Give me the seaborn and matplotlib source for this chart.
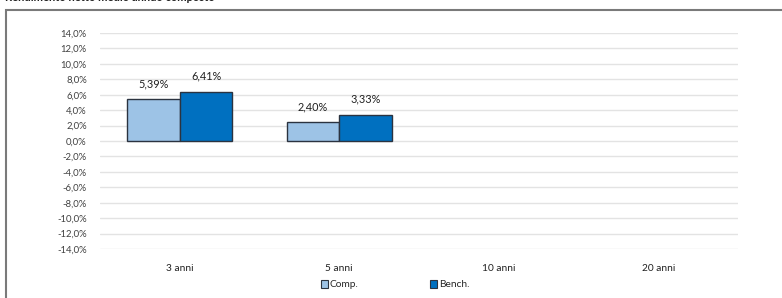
import matplotlib
matplotlib.use("Agg")
import matplotlib.pyplot as plt
import matplotlib.patches as mpatches
from matplotlib.ticker import FuncFormatter, MultipleLocator
import seaborn as sns
import pandas as pd
import numpy as np

categories = ["3 anni", "5 anni", "10 anni", "20 anni"]
comp = [5.39, 2.40, np.nan, np.nan]
bench = [6.41, 3.33, np.nan, np.nan]
series_names = ["Comp.", "Bench."]
colors = ["#9DC3E6", "#0070C0"]
title = "Rendimento netto medio annuo composto"

df = pd.DataFrame({
    "cat": categories * 2,
    "serie": [series_names[0]] * 4 + [series_names[1]] * 4,
    "val": comp + bench,
})

sns.set_theme(style="white")
plt.rcParams["font.family"] = ["Lato", "DejaVu Sans"]

fig = plt.figure(figsize=(7.82, 2.98), dpi=100)
ax = fig.add_axes([100 / 782, 1 - 249 / 298, 638 / 782, 216 / 298])

sns.barplot(data=df, x="cat", y="val", hue="serie", order=categories,
            hue_order=series_names, palette=colors, saturation=1, width=0.66, gap=0,
            edgecolor="#2B3340", linewidth=1.0, ax=ax, legend=False)

ax.set_ylim(-14, 14)
ax.yaxis.set_major_locator(MultipleLocator(2))
ax.yaxis.set_major_formatter(FuncFormatter(lambda v, p: f"{v:.1f}%".replace(".", ",")))
ax.grid(axis="y", color="#E3E3E3", linewidth=1.0)
ax.set_axisbelow(True)
for s in ax.spines.values():
    s.set_visible(False)
ax.tick_params(axis="y", labelsize=6.8, colors="#404040", length=0, pad=9.5)
ax.tick_params(axis="x", labelsize=7.3, colors="#202020", length=0, pad=11)
ax.set_xlabel("")
ax.set_ylabel("")

for cont in ax.containers:
    for bar in cont:
        h = bar.get_height()
        if np.isnan(h):
            continue
        ax.annotate(f"{h:.2f}%".replace(".", ","),
                    (bar.get_x() + bar.get_width() / 2, h),
                    xytext=(0, 7.5), textcoords="offset points",
                    ha="center", va="bottom", fontsize=7.8, color="#202020")

handles = [mpatches.Patch(facecolor=c, edgecolor="#2B3340", linewidth=0.8) for c in colors]
fig.legend(handles, series_names, loc="center", bbox_to_anchor=(0.505, 0.045),
           ncol=2, frameon=False, fontsize=7.3, handlelength=0.7, handleheight=0.9,
           handletextpad=0.2, columnspacing=7.0)

fig.patches.append(mpatches.Rectangle((6 / 782, -0.05), 1.1, 1 - 10 / 298 + 0.05,
                                      transform=fig.transFigure, fill=False,
                                      edgecolor="#7A7A7A", linewidth=1.5))
fig.text(5 / 782, 1 - 3 / 298, title, fontsize=8, fontweight="bold",
         color="#202020", ha="left", va="bottom")

fig.savefig("out.png", dpi=100)
